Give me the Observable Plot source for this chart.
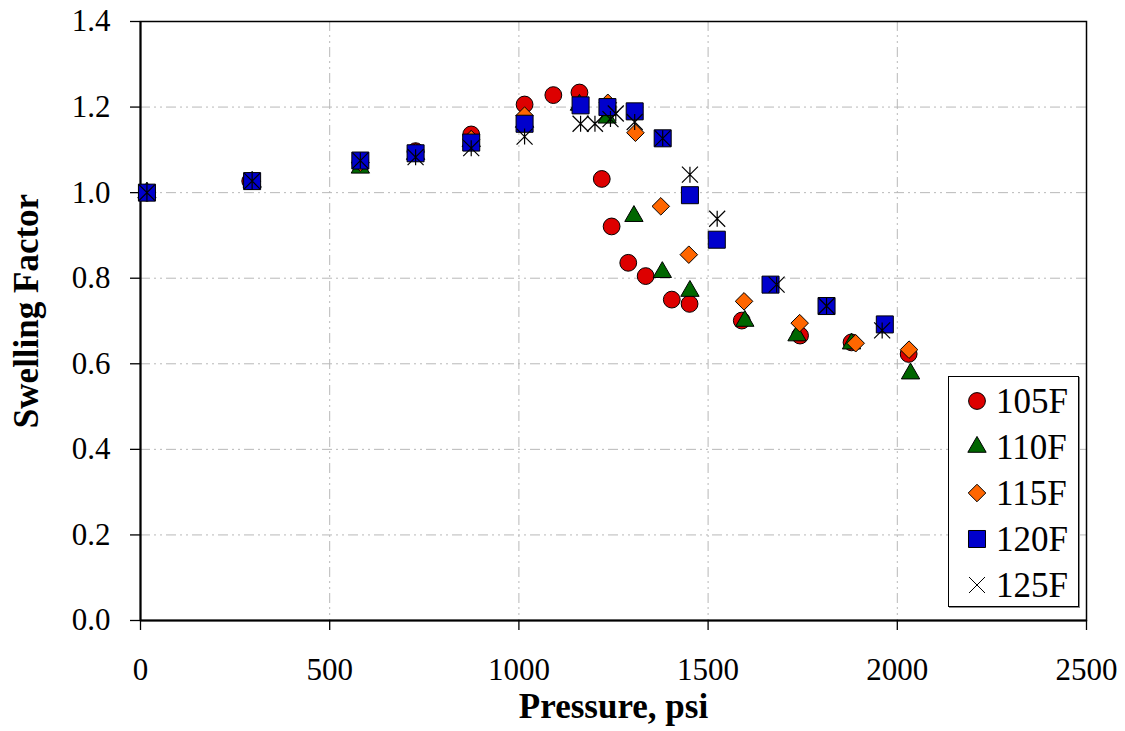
<!DOCTYPE html>
<html><head><meta charset="utf-8">
<script src="https://cdn.jsdelivr.net/npm/d3@7"></script>
<script src="https://cdn.jsdelivr.net/npm/@observablehq/plot@0.6"></script>
<style>
body{margin:0;background:#fff;}
#wrap{position:relative;width:1125px;height:731px;font-family:"Liberation Serif",serif;}
#legend{position:absolute;left:948px;top:376px;width:131px;height:231px;border:1.5px solid #000;background:#fff;box-shadow:1px 1px 0 #888;box-sizing:border-box;}
.row{position:absolute;left:0;height:40px;display:flex;align-items:center;}
.row svg{margin-left:17px;width:22px;height:22px;overflow:visible;}
.row span{margin-left:8px;font-size:35px;line-height:1;color:#000;}
</style>
</head><body>
<div id="wrap"><div id="chart"></div><div id="legend"></div></div>
<script>
// ---- data ----
const seriesNames = ["105F", "110F", "115F", "120F", "125F"];
const xTicks = [0, 500, 1000, 1500, 2000, 2500];
const yTicks = [0, 0.2, 0.4, 0.6, 0.8, 1.0, 1.2, 1.4];
const xTitle = "Pressure, psi";
const yTitle = "Swelling Factor";

const p105 = [17, 290, 581, 727, 874, 1015, 1091, 1160, 1219, 1245, 1289, 1335, 1404, 1451, 1589, 1743, 1879, 2030];
const v105 = [1.0, 1.027, 1.07, 1.097, 1.136, 1.206, 1.228, 1.234, 1.032, 0.921, 0.836, 0.805, 0.750, 0.740, 0.701, 0.666, 0.650, 0.623];

const p110 = [17, 295, 581, 727, 874, 1015, 1160, 1233, 1304, 1379, 1452, 1597, 1735, 1879, 2035];
const v110 = [1.0, 1.025, 1.058, 1.09, 1.12, 1.165, 1.205, 1.175, 0.945, 0.814, 0.770, 0.700, 0.666, 0.647, 0.577];

const p115 = [17, 295, 581, 727, 874, 1015, 1235, 1308, 1375, 1449, 1595, 1742, 1890, 2031];
const v115 = [1.0, 1.027, 1.07, 1.095, 1.125, 1.18, 1.21, 1.140, 0.968, 0.855, 0.746, 0.695, 0.648, 0.633];

const p120 = [17, 295, 581, 727, 874, 1015, 1163, 1234, 1306, 1380, 1452, 1523, 1665, 1813, 1967];
const v120 = [1.0, 1.027, 1.075, 1.092, 1.117, 1.161, 1.204, 1.200, 1.190, 1.127, 0.994, 0.890, 0.785, 0.735, 0.692];

const p125 = [17, 295, 581, 727, 874, 1015, 1163, 1201, 1242, 1256, 1306, 1380, 1452, 1524, 1681, 1813, 1960];
const v125 = [1.0, 1.027, 1.075, 1.083, 1.104, 1.131, 1.161, 1.161, 1.172, 1.185, 1.165, 1.127, 1.042, 0.939, 0.785, 0.735, 0.678];

const colors = ["#DD0000", "#006600", "#FF6600", "#0000CC", "none"];

// ---- symbols ----
const asterisk = {
  draw(ctx, size) {
    const r = Math.sqrt(size / Math.PI);
    ctx.moveTo(-r, -r); ctx.lineTo(r, r);
    ctx.moveTo(-r, r); ctx.lineTo(r, -r);
    ctx.moveTo(0, -r); ctx.lineTo(0, r);
  }
};
const xOnly = {
  draw(ctx, size) {
    const r = Math.sqrt(size / Math.PI);
    ctx.moveTo(-r, -r); ctx.lineTo(r, r);
    ctx.moveTo(-r, r); ctx.lineTo(r, -r);
  }
};
const symbolsPlot = ["circle", "triangle", "diamond2", "square", asterisk];
const symbolsD3 = [d3.symbolCircle, d3.symbolTriangle, d3.symbolDiamond2, d3.symbolSquare, xOnly];
const radii = [8.4, 6.8, 7.9, 9.6, 8];

const P = [p105, p110, p115, p120, p125];
const V = [v105, v110, v115, v120, v125];
const rows = P.map((ps, k) => ps.map((p, i) => ({p, v: V[k][i]})));

const dotMarks = rows.map((data, k) => Plot.dot(data, {
  x: "p", y: "v", r: radii[k], symbol: symbolsPlot[k],
  fill: colors[k], stroke: "#000", strokeWidth: k === 4 ? 1.2 : 1
}));

const gridStyle = {stroke: "#b8b8b8", strokeOpacity: 1, strokeWidth: 1, strokeDasharray: "10,4,2,4,2,4"};

const chart = Plot.plot({
  width: 1125, height: 731,
  marginLeft: 140, marginRight: 39, marginTop: 21, marginBottom: 111,
  style: {fontFamily: "'Liberation Serif', serif", fontSize: "31px", color: "#000", background: "#fff", overflow: "visible"},
  x: {domain: [0, 2500]},
  y: {domain: [0, 1.4]},
  marks: [
    Plot.gridX(xTicks.filter(d => d > 0 && d < 2500), gridStyle),
    Plot.gridY(yTicks.filter(d => d > 0 && d < 1.4), gridStyle),
    Plot.frame({stroke: "#000", strokeWidth: 1.5}),
    Plot.axisX(xTicks, {tickSize: 10, tickPadding: 27, tickFormat: d3.format("d"), label: null, strokeWidth: 1.3}),
    Plot.axisY(yTicks, {tickSize: 10, tickPadding: 20, tickFormat: d3.format(".1f"), label: null, strokeWidth: 1.3}),
    Plot.ruleX([0], {stroke: "#000", strokeWidth: 2}),
    Plot.ruleY([0], {stroke: "#000", strokeWidth: 2}),
    ...dotMarks,
    Plot.text([xTitle], {text: d => d, frameAnchor: "bottom", textAnchor: "middle", dy: 97, fontWeight: "bold", fontSize: 35, letterSpacing: 1}),
    Plot.text([yTitle], {text: d => d, frameAnchor: "left", textAnchor: "middle", dx: -114, dy: -10, rotate: -90, fontWeight: "bold", fontSize: 35, letterSpacing: 1})
  ]
});
document.getElementById("chart").appendChild(chart);

// ---- legend ----
const legend = document.getElementById("legend");
const rowCenters = [24, 70, 116, 162, 208];
seriesNames.forEach((name, k) => {
  const row = document.createElement("div");
  row.className = "row";
  row.style.top = (rowCenters[k] - 20) + "px";
  const size = Math.PI * radii[k] * radii[k];
  const path = d3.symbol(symbolsD3[k], size)();
  row.innerHTML = `<svg viewBox="-11 -11 22 22"><path d="${path}" fill="${colors[k]}" stroke="#000" stroke-width="1"></path></svg><span>${name}</span>`;
  legend.appendChild(row);
});
</script>
</body></html>
